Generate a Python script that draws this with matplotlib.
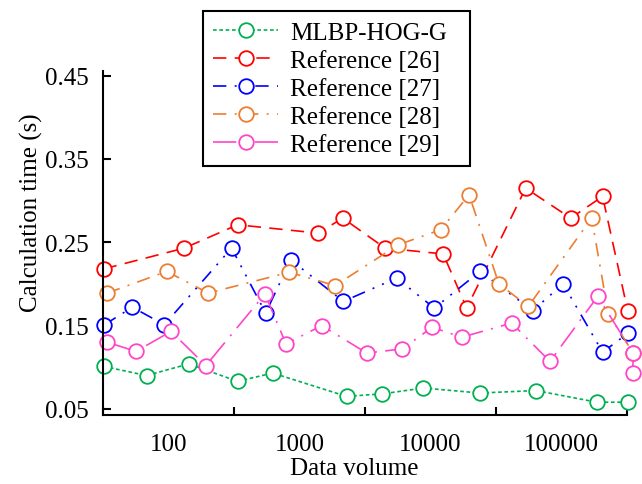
import numpy as np
import matplotlib
matplotlib.use('Agg')
import matplotlib.pyplot as plt

# values
mlbp_x = [32, 68, 143, 337, 624, 2290, 4290, 8820, 23900, 63900, 186000, 320000]
mlbp_y = [0.101, 0.090, 0.104, 0.083, 0.093, 0.065, 0.068, 0.075, 0.069, 0.072, 0.058, 0.058]

ref26_x = [32, 132, 337, 1390, 2140, 4500, 12500, 18900, 53300, 117500, 206000, 320000]
ref26_y = [0.218, 0.243, 0.271, 0.261, 0.279, 0.243, 0.236, 0.171, 0.315, 0.279, 0.305, 0.168]

ref27_x = [32.4, 53, 93, 303, 552, 857, 2160, 5520, 10700, 23900, 60300, 103000, 206000, 323000]
ref27_y = [0.151, 0.172, 0.151, 0.243, 0.165, 0.229, 0.179, 0.207, 0.171, 0.215, 0.168, 0.200, 0.118, 0.141]

ref28_x = [34, 97, 201, 836, 1870, 5680, 11970, 19700, 33300, 55800, 170000, 228000, 353000]
ref28_y = [0.189, 0.215, 0.189, 0.214, 0.198, 0.247, 0.265, 0.307, 0.200, 0.173, 0.279, 0.164, 0.117]

ref29_x = [34, 56.5, 104.5, 193, 545, 789, 1480, 3260, 6100, 10300, 17300, 41700, 81700, 189000, 353000, 350000]
ref29_y = [0.130, 0.119, 0.143, 0.102, 0.188, 0.128, 0.150, 0.117, 0.122, 0.148, 0.136, 0.153, 0.107, 0.185, 0.117, 0.093]

labels = ['MLBP-HOG-G', 'Reference [26]', 'Reference [27]', 'Reference [28]', 'Reference [29]']
y_ticks = [0.05, 0.15, 0.25, 0.35, 0.45]
x_labels = ['100', '1000', '10000', '100000']

plt.rcParams['font.family'] = ['Liberation Serif', 'DejaVu Serif']
plt.rcParams['font.size'] = 18

fig = plt.figure(figsize=(6.42, 4.85), dpi=100)
ax = fig.add_axes([0.1604, 0.1429, 0.8162, 0.7093])

series = [
    (mlbp_x, mlbp_y, '#00b050', (0, (2.2, 1.6))),
    (ref26_x, ref26_y, '#ff0000', (0, (8, 5))),
    (ref27_x, ref27_y, '#0000ff', (0, (8, 5, 1.2, 5, 1.2, 5))),
    (ref28_x, ref28_y, '#ed7d31', (0, (8, 5, 1.2, 5))),
    (ref29_x, ref29_y, '#ff45c8', (0, (14, 5, 1.2, 5))),
]

for (xs, ys, c, ls), lab in zip(series, labels):
    ax.plot(xs, ys, color=c, linestyle=ls, linewidth=1.2, marker='o',
            markersize=10.5, markerfacecolor='white', markeredgecolor=c,
            markeredgewidth=1.3, label=lab, clip_on=False)

ax.set_xscale('log')
ax.set_xlim(10 ** 1.5, 10 ** 5.5)
ax.set_ylim(0.043, 0.456)

# ticks sit between the decades, the labels sit on them
ax.set_xticks([10 ** 1.5, 10 ** 2.5, 10 ** 3.5, 10 ** 4.5, 10 ** 5.5])
ax.set_xticklabels([])
ax.set_xticks([100, 1000, 10000, 100000], minor=True)
ax.set_xticklabels(x_labels, minor=True)
ax.tick_params(axis='x', which='minor', length=0, pad=13)
ax.tick_params(axis='x', which='major', direction='in', length=6, width=1.5)

ax.set_yticks(y_ticks)
ax.set_yticklabels(['%.2f' % v for v in y_ticks])
ax.tick_params(axis='y', direction='in', length=6, width=1.5, pad=10)

for s in ['top', 'right']:
    ax.spines[s].set_visible(False)
for s in ['left', 'bottom']:
    ax.spines[s].set_linewidth(1.5)

ax.set_xlabel('Data volume')
ax.xaxis.set_label_coords(0.48, -0.123)
ax.set_ylabel('Calculation time (s)')
ax.yaxis.set_label_coords(-0.114, 0.59)

leg = ax.legend(loc='upper left', bbox_to_anchor=(203 / 642, 1 - 12 / 485, 267 / 642, 0),
                bbox_transform=fig.transFigure, borderaxespad=0, mode='expand',
                handlelength=2.6, handletextpad=0.5, labelspacing=0.22,
                borderpad=0.4, fancybox=False, framealpha=1)
leg.get_frame().set_edgecolor('black')
leg.get_frame().set_linewidth(1.5)

plt.savefig('out.png', dpi=100)
